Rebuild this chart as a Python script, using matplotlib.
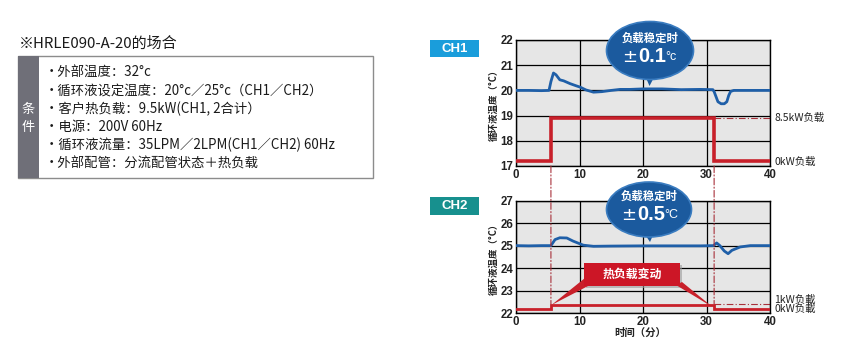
import matplotlib
matplotlib.use("Agg")
import matplotlib.pyplot as plt
from matplotlib.patches import Ellipse, Polygon, Rectangle, ConnectionPatch

plt.rcParams['font.family'] = ['Noto Sans CJK SC', 'DejaVu Sans']

W, H = 852, 353

# ---------------- data ----------------
xticks = [0, 10, 20, 30, 40]
ch1_yticks = [17, 18, 19, 20, 21, 22]
ch2_yticks = [22, 23, 24, 25, 26, 27]

step_on, step_off = 5.5, 31.2

ch1_temp_x = [0, 2, 4, 5.2, 5.5, 5.9, 6.3, 6.9, 7.5, 8.5, 9.5, 10.1, 11.0, 12.2, 13.5, 15, 16.4, 18, 20, 23,
              26, 29, 31.0, 31.2, 31.5, 31.8, 32.3, 32.8, 33.2, 33.5, 33.8, 34.3, 36, 38, 40]
ch1_temp_y = [20.0, 20.0, 19.99, 20.0, 20.35, 20.69, 20.62, 20.42, 20.38, 20.27, 20.18, 20.13, 20.02, 19.93,
              19.95, 20.0, 20.04, 20.04, 20.06, 20.06, 20.03, 20.04, 20.03, 19.95, 19.75, 19.55, 19.47,
              19.47, 19.55, 19.8, 19.96, 20.0, 20.0, 20.0, 20.0]

ch2_temp_x = [0, 2, 4, 5.5, 6.15, 6.9, 8.0, 9.0, 10.6, 12.2, 15, 20, 25, 29, 31.1, 31.6, 32.1, 32.8, 33.4,
              34.0, 35.3, 36.9, 38, 40]
ch2_temp_y = [25.0, 24.99, 25.0, 25.0, 25.27, 25.35, 25.34, 25.2, 25.02, 24.97, 24.98, 24.99, 24.99, 24.99,
              25.0, 25.12, 25.0, 24.76, 24.64, 24.79, 24.94, 25.0, 25.0, 25.0]

ch1_load_x = [0, step_on, step_on, step_off, step_off, 40]
ch1_load_y = [17.2, 17.2, 18.9, 18.9, 17.2, 17.2]
ch2_load_x = [0, step_on, step_on, step_off, step_off, 40]
ch2_load_y = [22.19, 22.19, 22.37, 22.37, 22.18, 22.18]
ch1_ref_level = 18.9
ch2_ref_level = 22.4

ch1_labels = ["8.5kW负载", "0kW负载"]
ch2_labels = ["1kW负載", "0kW负載"]

cond_title = "※HRLE090-A-20的场合"
cond_lines = [
    "•外部温度：32°c",
    "•循环液设定温度：20°c／25°c（CH1／CH2）",
    "•客户热负载：9.5kW(CH1, 2合计）",
    "•电源：200V 60Hz",
    "•循环液流量：35LPM／2LPM(CH1／CH2) 60Hz",
    "•外部配管：分流配管状态＋热负载",
]

BLUE = '#1f5fa8'
RED = '#c8202a'
DRED = '#a8303a'
GRAYBG = '#e6e6e6'
TXT = '#1a1a1a'


def fx(x):
    return x / W


def fy(y):
    return 1 - y / H


fig = plt.figure(figsize=(W / 100, H / 100), dpi=100)

# ---------------- axes ----------------
L, R = 516, 770
ax1 = fig.add_axes([fx(L), fy(166), (R - L) / W, (166 - 40) / H])
ax2 = fig.add_axes([fx(L), fy(313), (R - L) / W, (313 - 200.7) / H])

for ax, yt in ((ax1, ch1_yticks), (ax2, ch2_yticks)):
    ax.set_facecolor(GRAYBG)
    ax.set_xlim(0, 40)
    ax.set_ylim(yt[0], yt[-1])
    ax.set_xticks(xticks)
    ax.set_yticks(yt)
    ax.set_xticklabels([str(v) for v in xticks], fontfamily='Liberation Sans', fontsize=8.3,
                       fontweight='bold')
    ax.set_yticklabels([str(v) for v in yt], fontfamily='Liberation Sans', fontsize=8.3,
                       fontweight='bold')
    ax.tick_params(length=0, pad=2, colors='#222222')
    ax.grid(True, color='black', lw=0.9)
    ax.set_axisbelow(True)
    for s in ax.spines.values():
        s.set_color('black')
        s.set_linewidth(1.0)
    ax.set_ylabel("循环液温度（°C）", fontsize=6.8, labelpad=1, color='#222222', fontweight='bold')

ax1.plot(ch1_load_x, ch1_load_y, color=RED, lw=2.6, solid_joinstyle='miter', zorder=3)
ax1.plot(ch1_temp_x, ch1_temp_y, color=BLUE, lw=2.0, zorder=4)
ax1.plot([step_off, 40], [ch1_ref_level, ch1_ref_level], color=DRED, lw=0.8,
         ls=(0, (6, 2, 1, 2)), zorder=2)

ax2.plot(ch2_load_x, ch2_load_y, color=RED, lw=2.0, solid_joinstyle='miter', zorder=3)
ax2.plot(ch2_temp_x, ch2_temp_y, color=BLUE, lw=2.0, zorder=4)
ax2.plot([step_off, 40], [ch2_ref_level, ch2_ref_level], color=DRED, lw=0.8,
         ls=(0, (6, 2, 1, 2)), zorder=2)

# vertical dash-dot connectors
for xv in (step_on, step_off):
    cp = ConnectionPatch(xyA=(xv, ch1_yticks[0]), coordsA=ax1.transData,
                         xyB=(xv, ch2_ref_level), coordsB=ax2.transData,
                         color=DRED, lw=0.8, ls=(0, (6, 2, 1, 2)), zorder=5)
    fig.add_artist(cp)

# right side labels
ax1.text(40.7, ch1_ref_level, ch1_labels[0], fontsize=7.5, va='center', ha='left', color='#222222')
ax1.text(40.7, 17.15, ch1_labels[1], fontsize=7.5, va='center', ha='left', color='#222222')
ax2.text(40.7, 22.58, ch2_labels[0], fontsize=7.5, va='center', ha='left', color='#222222')
ax2.text(40.7, 22.16, ch2_labels[1], fontsize=7.5, va='center', ha='left', color='#222222')

fig.text(fx(640.5), fy(333), "时间（分）", fontsize=7.5, ha='center', va='center', color='#222222',
         fontweight='bold')

# CH labels
fig.add_artist(Rectangle((fx(430), fy(57.3)), 49 / W, 17.3 / H, transform=fig.transFigure,
                         facecolor='#1a9ddb', edgecolor='none'))
fig.text(fx(454.5), fy(48.6), "CH1", fontsize=9.5, fontweight='bold', color='white',
         ha='center', va='center', fontfamily='Liberation Sans')
fig.add_artist(Rectangle((fx(430), fy(215)), 49 / W, 17.7 / H, transform=fig.transFigure,
                         facecolor='#17908e', edgecolor='none'))
fig.text(fx(454.5), fy(206.2), "CH2", fontsize=9.5, fontweight='bold', color='white',
         ha='center', va='center', fontfamily='Liberation Sans')


# callout ellipses
def callout(cx, cy, w, h, tipx, tipy, title, value, unit, ty, vy):
    fig.add_artist(Polygon([(fx(cx - 5), fy(cy + h / 2 - 4)), (fx(cx + 5), fy(cy + h / 2 - 4)),
                            (fx(tipx), fy(tipy))], closed=True, transform=fig.transFigure,
                           facecolor='#1b5a9e', edgecolor='none', zorder=10))
    fig.add_artist(Ellipse((fx(cx), fy(cy)), w / W, h / H, transform=fig.transFigure,
                           facecolor='#1b5a9e', edgecolor='#3a7cc0', lw=1.2, zorder=10))
    fig.text(fx(cx), fy(ty), title, fontsize=8.2, fontweight='bold', color='white',
             ha='center', va='center', zorder=11)
    fig.text(fx(cx - 20), fy(vy), "±", fontsize=13, color='white', ha='center', va='center',
             fontfamily='DejaVu Sans', zorder=11)
    fig.text(fx(cx + 2), fy(vy), value, fontsize=14.5, fontweight='bold', color='white',
             ha='center', va='center', fontfamily='Liberation Sans', zorder=11)
    fig.text(fx(cx + 15.5), fy(vy), unit, fontsize=9, color='white', ha='left', va='center',
             fontfamily='Liberation Sans', zorder=11)


callout(650, 50.5, 87, 58, 649.5, 86, "负载稳定时", "0.1", "°c", 38.5, 57)
callout(649, 209.5, 85, 55, 650, 242, "负载稳定时", "0.5", "°C", 196.7, 215)

# red heat load box
fig.add_artist(Rectangle((fx(586), fy(288)), 96 / W, 23 / H, transform=fig.transFigure,
                         facecolor='#9a9a9a', edgecolor='none', alpha=0.6, zorder=9))
fig.add_artist(Polygon([(fx(585), fy(278)), (fx(590), fy(285)), (fx(551.5), fy(305))], closed=True,
                       transform=fig.transFigure, facecolor=RED, edgecolor='none', zorder=9))
fig.add_artist(Polygon([(fx(676), fy(285)), (fx(682), fy(282)), (fx(712.5), fy(307))], closed=True,
                       transform=fig.transFigure, facecolor=RED, edgecolor='none', zorder=9))
fig.add_artist(Rectangle((fx(584), fy(286)), 96 / W, 23.3 / H, transform=fig.transFigure,
                         facecolor='#cc1626', edgecolor='none', zorder=10))
fig.text(fx(632), fy(274.3), "热负载变动", fontsize=8.6, fontweight='bold', color='white',
         ha='center', va='center', zorder=11)

# ---------------- left conditions block ----------------
fig.text(fx(19), fy(43.5), cond_title, fontsize=10.8, ha='left', va='center', color=TXT,
         fontweight='medium')
fig.add_artist(Rectangle((fx(18), fy(178)), (373 - 18) / W, (178 - 56) / H, transform=fig.transFigure,
                         facecolor='white', edgecolor='#8c8c8c', lw=1.0))
fig.add_artist(Rectangle((fx(18), fy(178)), (39 - 18) / W, (178 - 56) / H, transform=fig.transFigure,
                         facecolor='#6f6f78', edgecolor='none'))
fig.text(fx(28.5), fy(109), "条", fontsize=9.5, color='white', ha='center', va='center')
fig.text(fx(28.5), fy(127), "件", fontsize=9.5, color='white', ha='center', va='center')
line_y = [72, 91, 109.3, 127, 145.3, 163.5]
for ty, t in zip(line_y, cond_lines):
    fig.text(fx(45), fy(ty), t, fontsize=9.6, ha='left', va='center', color=TXT, fontweight='medium')

fig.savefig("out.png", dpi=100)
